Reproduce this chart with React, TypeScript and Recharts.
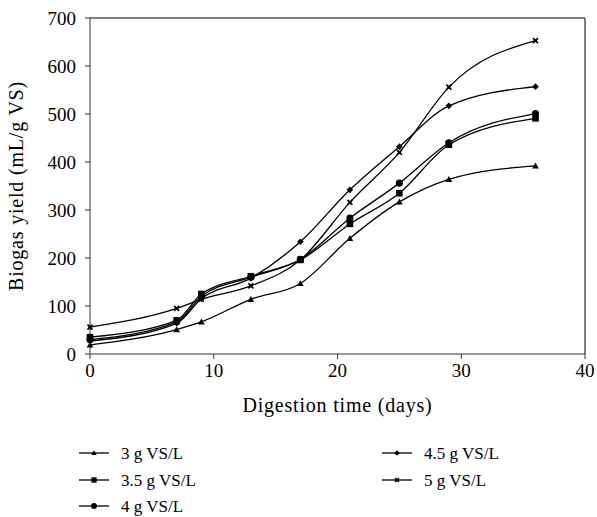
import React from "react";
import {
  LineChart,
  Line,
  XAxis,
  YAxis,
  ReferenceLine,
} from "recharts";

const days = [0, 7, 9, 13, 17, 21, 25, 29, 36];
const s3 = [19, 51, 67, 114, 147, 241, 317, 364, 392];
const s35 = [35, 70, 125, 162, 196, 271, 335, 436, 491];
const s4 = [30, 67, 120, 160, 197, 283, 356, 440, 501];
const s45 = [27, 64, 115, 158, 234, 342, 432, 517, 557];
const s5 = [56, 95, 114, 142, 196, 316, 420, 556, 653];

const xTicks = [0, 10, 20, 30, 40];
const yTicks = [0, 100, 200, 300, 400, 500, 600, 700];

type Marker = "triangle" | "square" | "circle" | "diamond" | "star";

const seriesDefs: { key: string; name: string; values: number[]; marker: Marker }[] = [
  { key: "s3", name: "3 g VS/L", values: s3, marker: "triangle" },
  { key: "s35", name: "3.5 g VS/L", values: s35, marker: "square" },
  { key: "s4", name: "4 g VS/L", values: s4, marker: "circle" },
  { key: "s45", name: "4.5 g VS/L", values: s45, marker: "diamond" },
  { key: "s5", name: "5 g VS/L", values: s5, marker: "star" },
];

const data = days.map((d, i) => {
  const row: Record<string, number> = { day: d };
  seriesDefs.forEach((s) => {
    row[s.key] = s.values[i];
  });
  return row;
});

const FONT = "'Liberation Serif', 'DejaVu Serif', serif";

function markerShape(kind: Marker, cx: number, cy: number, k: string | number, sc = 1) {
  const a = 3.3 * sc;
  switch (kind) {
    case "triangle":
      return <path key={k} d={`M${cx},${cy - a}L${cx + a},${cy + a * 0.8}L${cx - a},${cy + a * 0.8}Z`} fill="#000" />;
    case "square":
      return <rect key={k} x={cx - a} y={cy - a} width={2 * a} height={2 * a} fill="#000" />;
    case "circle":
      return <circle key={k} cx={cx} cy={cy} r={a + 0.3} fill="#000" />;
    case "diamond":
      return <path key={k} d={`M${cx},${cy - a}L${cx + a},${cy}L${cx},${cy + a}L${cx - a},${cy}Z`} fill="#000" />;
    case "star":
    default: {
      const b = 2.5 * sc;
      return (
        <g key={k}>
          <path d={`M${cx - b},${cy - b}L${cx + b},${cy + b}M${cx + b},${cy - b}L${cx - b},${cy + b}`} stroke="#000" strokeWidth={1.6} />
          <rect x={cx - 1.5 * sc} y={cy - 1.5 * sc} width={3 * sc} height={3 * sc} fill="#000" />
        </g>
      );
    }
  }
}

const makeDot = (kind: Marker) => (props: any) => {
  const { cx, cy, index } = props;
  if (cx == null || cy == null) return <g key={`n${index}`} />;
  return markerShape(kind, cx, cy, `${kind}-${index}`);
};

const legendPos = [
  { x: 79, y: 453 },
  { x: 79, y: 480 },
  { x: 79, y: 506 },
  { x: 382, y: 453 },
  { x: 382, y: 480 },
];

const LegendSvg = () => (
  <svg width={597} height={517} style={{ position: "absolute", left: 0, top: 0, pointerEvents: "none" }}>
    {seriesDefs.map((s, i) => {
      const p = legendPos[i];
      return (
        <g key={s.key}>
          <line x1={p.x} x2={p.x + 30} y1={p.y} y2={p.y} stroke="#000" strokeWidth={1.3} />
          {markerShape(s.marker, p.x + 15, p.y, "m", 0.8)}
          <text x={p.x + 42} y={p.y + 5.5} fontFamily={FONT} fontSize={17} fill="#000">
            {s.name}
          </text>
        </g>
      );
    })}
  </svg>
);

export default function App() {
  return (
    <div style={{ position: "absolute", left: 0, top: 0, width: 597, height: 517 }}>
      <LineChart
        width={597}
        height={517}
        data={data}
        margin={{ top: 18, right: 12, bottom: 133, left: 0 }}
      >
        <XAxis
          dataKey="day"
          type="number"
          domain={[0, 40]}
          ticks={xTicks}
          height={30}
          stroke="#333"
          tickSize={5}
          tickMargin={5}
          tick={{ fill: "#000", fontFamily: FONT, fontSize: 19 }}
          label={{
            value: "Digestion time (days)",
            position: "bottom",
            offset: 14,
            fill: "#000",
            fontFamily: FONT,
            fontSize: 20,
            letterSpacing: 0.8,
          }}
        />
        <YAxis
          type="number"
          domain={[0, 700]}
          ticks={yTicks}
          width={90}
          stroke="#333"
          tickSize={5}
          tickMargin={9}
          tick={{ fill: "#000", fontFamily: FONT, fontSize: 19 }}
          label={{
            value: "Biogas yield (mL/g VS)",
            angle: -90,
            position: "insideLeft",
            offset: 16,
            style: { textAnchor: "middle" },
            fill: "#000",
            fontFamily: FONT,
            fontSize: 20,
            letterSpacing: 0.8,
          }}
        />
        <ReferenceLine y={700} stroke="#555" strokeWidth={1.5} />
        <ReferenceLine x={40} stroke="#555" strokeWidth={1.5} />
        {seriesDefs.map((s) => (
          <Line
            key={s.key}
            dataKey={s.key}
            name={s.name}
            type="monotone"
            stroke="#000"
            strokeWidth={1.3}
            dot={makeDot(s.marker)}
            isAnimationActive={false}
          />
        ))}
      </LineChart>
      <LegendSvg />
    </div>
  );
}
